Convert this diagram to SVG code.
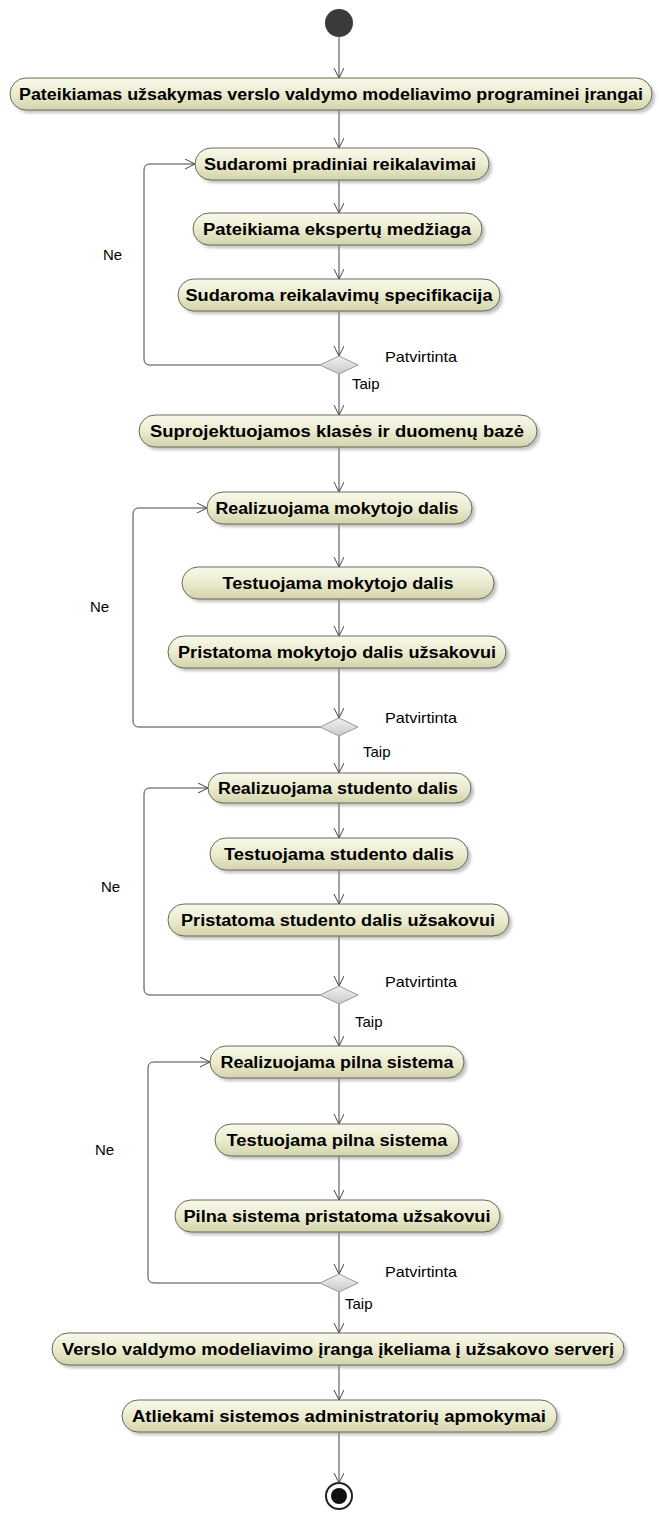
<svg xmlns="http://www.w3.org/2000/svg" width="659" height="1513" viewBox="0 0 659 1513">
<defs>
<linearGradient id="g" x1="0" y1="0" x2="0" y2="1">
<stop offset="0" stop-color="#f9f9ec"/>
<stop offset="0.5" stop-color="#ebebd0"/>
<stop offset="1" stop-color="#d3d3ab"/>
</linearGradient>
<linearGradient id="dg" x1="0" y1="0" x2="0" y2="1">
<stop offset="0" stop-color="#f2f2f2"/>
<stop offset="1" stop-color="#c8c8c8"/>
</linearGradient>
<filter id="sh" x="-10%" y="-30%" width="120%" height="180%">
<feGaussianBlur stdDeviation="1.5"/>
</filter>
<marker id="arr" markerUnits="userSpaceOnUse" markerWidth="12" markerHeight="12" refX="10" refY="5" orient="auto">
<path d="M0,0 L10,5 L0,10" fill="none" stroke="#444" stroke-width="1"/>
</marker>
</defs>
<style>
.box{fill:url(#g);stroke:#6a6a5a;stroke-width:1}
.shd{fill:#9a9a9a;opacity:0.6;filter:url(#sh)}
.t{font-family:"Liberation Sans",Arial,sans-serif;font-weight:bold;font-size:16px;fill:#000;text-anchor:middle}
.lbl{font-family:"Liberation Sans",Arial,sans-serif;font-size:15px;fill:#000}
.c{fill:none;stroke:#444;stroke-width:1;marker-end:url(#arr)}
.dia{fill:url(#dg);stroke:#999;stroke-width:1}
</style>
<rect width="659" height="1513" fill="#fff"/>

<g id="connectors">
<line class="c" x1="339" y1="37" x2="339" y2="78"/>
<line class="c" x1="339" y1="110" x2="339" y2="148"/>
<line class="c" x1="339" y1="180" x2="339" y2="213"/>
<line class="c" x1="339" y1="245" x2="339" y2="279"/>
<line class="c" x1="339" y1="311" x2="339" y2="356"/>
<line class="c" x1="339" y1="374" x2="339" y2="415"/>
<path class="c" d="M320,365 H150 Q144,365 144,359 V170 Q144,164 150,164 H195"/>
<line class="c" x1="339" y1="447" x2="339" y2="492"/>
<line class="c" x1="339" y1="524" x2="339" y2="567"/>
<line class="c" x1="339" y1="599" x2="339" y2="636"/>
<line class="c" x1="339" y1="668" x2="339" y2="718"/>
<line class="c" x1="339" y1="736" x2="339" y2="773"/>
<path class="c" d="M320,727 H139 Q133,727 133,721 V514 Q133,508 139,508 H207"/>
<line class="c" x1="339" y1="803" x2="339" y2="838"/>
<line class="c" x1="339" y1="870" x2="339" y2="904"/>
<line class="c" x1="339" y1="936" x2="339" y2="986"/>
<line class="c" x1="339" y1="1004" x2="339" y2="1046"/>
<path class="c" d="M320,995 H150 Q144,995 144,989 V794 Q144,788 150,788 H208"/>
<line class="c" x1="339" y1="1078" x2="339" y2="1124"/>
<line class="c" x1="339" y1="1156" x2="339" y2="1200"/>
<line class="c" x1="339" y1="1232" x2="339" y2="1274"/>
<line class="c" x1="339" y1="1292" x2="339" y2="1333"/>
<path class="c" d="M320,1283 H154 Q148,1283 148,1277 V1068 Q148,1062 154,1062 H210"/>
<line class="c" x1="339" y1="1365" x2="339" y2="1400"/>
<line class="c" x1="339" y1="1432" x2="339" y2="1483"/>
</g>

<g id="start"><circle cx="339" cy="23" r="14" fill="#3a3a3a"/></g>

<g id="n1"><rect class="shd" x="13" y="81" width="642" height="32" rx="16"/><rect class="box" x="10" y="78" width="642" height="32" rx="16"/><text class="t" x="331" y="100" textLength="624" lengthAdjust="spacingAndGlyphs">Pateikiamas užsakymas verslo valdymo modeliavimo programinei įrangai</text></g>
<g id="n2"><rect class="shd" x="198" y="151" width="294" height="32" rx="16"/><rect class="box" x="195" y="148" width="294" height="32" rx="16"/><text class="t" x="340" y="170" textLength="272" lengthAdjust="spacingAndGlyphs">Sudaromi pradiniai reikalavimai</text></g>
<g id="n3"><rect class="shd" x="196" y="216" width="289" height="32" rx="16"/><rect class="box" x="193" y="213" width="289" height="32" rx="16"/><text class="t" x="337" y="235" textLength="268" lengthAdjust="spacingAndGlyphs">Pateikiama ekspertų medžiaga</text></g>
<g id="n4"><rect class="shd" x="181" y="282" width="322" height="32" rx="16"/><rect class="box" x="178" y="279" width="322" height="32" rx="16"/><text class="t" x="339" y="301" textLength="307" lengthAdjust="spacingAndGlyphs">Sudaroma reikalavimų specifikacija</text></g>
<g id="d1"><polygon class="dia" points="339,356 358,365 339,374 320,365"/><text class="lbl" x="385" y="362" textLength="72" lengthAdjust="spacingAndGlyphs">Patvirtinta</text><text class="lbl" x="352" y="389">Taip</text><text class="lbl" x="103" y="260">Ne</text></g>
<g id="n5"><rect class="shd" x="142" y="418" width="398" height="32" rx="16"/><rect class="box" x="139" y="415" width="398" height="32" rx="16"/><text class="t" x="337" y="437" textLength="374" lengthAdjust="spacingAndGlyphs">Suprojektuojamos klasės ir duomenų bazė</text></g>
<g id="n6"><rect class="shd" x="210" y="495" width="265" height="32" rx="16"/><rect class="box" x="207" y="492" width="265" height="32" rx="16"/><text class="t" x="337" y="514" textLength="243" lengthAdjust="spacingAndGlyphs">Realizuojama mokytojo dalis</text></g>
<g id="n7"><rect class="shd" x="185" y="570" width="312" height="32" rx="16"/><rect class="box" x="182" y="567" width="312" height="32" rx="16"/><text class="t" x="338" y="589" textLength="231" lengthAdjust="spacingAndGlyphs">Testuojama mokytojo dalis</text></g>
<g id="n8"><rect class="shd" x="171" y="639" width="338" height="32" rx="16"/><rect class="box" x="168" y="636" width="338" height="32" rx="16"/><text class="t" x="337" y="658" textLength="318" lengthAdjust="spacingAndGlyphs">Pristatoma mokytojo dalis užsakovui</text></g>
<g id="d2"><polygon class="dia" points="339,718 358,727 339,736 320,727"/><text class="lbl" x="385" y="723" textLength="72" lengthAdjust="spacingAndGlyphs">Patvirtinta</text><text class="lbl" x="363" y="757">Taip</text><text class="lbl" x="90" y="612">Ne</text></g>
<g id="n9"><rect class="shd" x="211" y="776" width="263" height="30" rx="15"/><rect class="box" x="208" y="773" width="263" height="30" rx="15"/><text class="t" x="338" y="794" textLength="240" lengthAdjust="spacingAndGlyphs">Realizuojama studento dalis</text></g>
<g id="n10"><rect class="shd" x="213" y="841" width="258" height="32" rx="16"/><rect class="box" x="210" y="838" width="258" height="32" rx="16"/><text class="t" x="339" y="860" textLength="230" lengthAdjust="spacingAndGlyphs">Testuojama studento dalis</text></g>
<g id="n11"><rect class="shd" x="171" y="907" width="341" height="32" rx="16"/><rect class="box" x="168" y="904" width="341" height="32" rx="16"/><text class="t" x="338" y="926" textLength="314" lengthAdjust="spacingAndGlyphs">Pristatoma studento dalis užsakovui</text></g>
<g id="d3"><polygon class="dia" points="339,986 358,995 339,1004 320,995"/><text class="lbl" x="385" y="987" textLength="72" lengthAdjust="spacingAndGlyphs">Patvirtinta</text><text class="lbl" x="355" y="1027">Taip</text><text class="lbl" x="101" y="892">Ne</text></g>
<g id="n12"><rect class="shd" x="213" y="1049" width="254" height="32" rx="16"/><rect class="box" x="210" y="1046" width="254" height="32" rx="16"/><text class="t" x="337" y="1068" textLength="233" lengthAdjust="spacingAndGlyphs">Realizuojama pilna sistema</text></g>
<g id="n13"><rect class="shd" x="218" y="1127" width="244" height="32" rx="16"/><rect class="box" x="215" y="1124" width="244" height="32" rx="16"/><text class="t" x="337" y="1146" textLength="221" lengthAdjust="spacingAndGlyphs">Testuojama pilna sistema</text></g>
<g id="n14"><rect class="shd" x="178" y="1203" width="325" height="32" rx="16"/><rect class="box" x="175" y="1200" width="325" height="32" rx="16"/><text class="t" x="337" y="1222" textLength="307" lengthAdjust="spacingAndGlyphs">Pilna sistema pristatoma užsakovui</text></g>
<g id="d4"><polygon class="dia" points="339,1274 358,1283 339,1292 320,1283"/><text class="lbl" x="385" y="1277" textLength="72" lengthAdjust="spacingAndGlyphs">Patvirtinta</text><text class="lbl" x="345" y="1309">Taip</text><text class="lbl" x="95" y="1155">Ne</text></g>
<g id="n15"><rect class="shd" x="55" y="1336" width="572" height="32" rx="16"/><rect class="box" x="52" y="1333" width="572" height="32" rx="16"/><text class="t" x="338" y="1355" textLength="552" lengthAdjust="spacingAndGlyphs">Verslo valdymo modeliavimo įranga įkeliama į užsakovo serverį</text></g>
<g id="n16"><rect class="shd" x="125" y="1403" width="435" height="32" rx="16"/><rect class="box" x="122" y="1400" width="435" height="32" rx="16"/><text class="t" x="339" y="1422" textLength="414" lengthAdjust="spacingAndGlyphs">Atliekami sistemos administratorių apmokymai</text></g>

<g id="end"><circle cx="339" cy="1496" r="13" fill="#fff" stroke="#222" stroke-width="2"/><circle cx="339" cy="1496" r="8" fill="#111"/></g>
</svg>
